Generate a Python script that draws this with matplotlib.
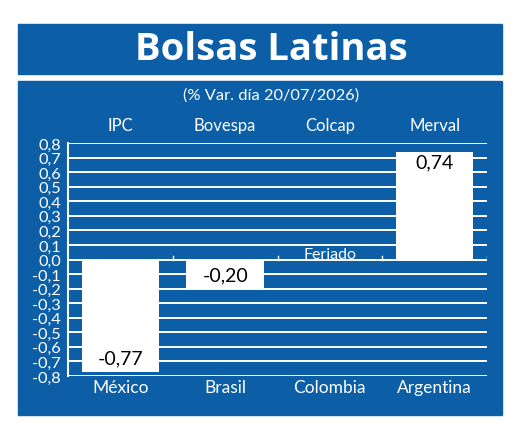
import matplotlib.pyplot as plt
import numpy as np
from matplotlib.patches import Rectangle

# datos
paises = ['México', 'Brasil', 'Colombia', 'Argentina']
indices = ['IPC', 'Bovespa', 'Colcap', 'Merval']
variacion = [-0.77, -0.20, np.nan, 0.74]   # Colcap: feriado
etiquetas = ['-0,77', '-0,20', 'Feriado', '0,74']
titulo = 'Bolsas Latinas'
subtitulo = '(% Var. día 20/07/2026)'

azul = '#0c5fa7'
W, H = 520, 435

fig = plt.figure(figsize=(W / 100, H / 100), dpi=100, facecolor='white')

# cajas azules de fondo
fig.patches.append(Rectangle((18 / W, 1 - 75 / H), 484 / W, 50 / H,
                             transform=fig.transFigure, color=azul, zorder=-5))
fig.patches.append(Rectangle((18 / W, 1 - 416 / H), 484 / W, 334 / H,
                             transform=fig.transFigure, color=azul, zorder=-5))

fig.text(271 / W, 1 - 50 / H, titulo, ha='center', va='center', color='white',
         fontsize=27.5, fontweight='bold', family='Open Sans')
fig.text(271 / W, 1 - 96 / H, subtitulo, ha='center', va='center', color='white',
         fontsize=11.8, family='Lato')

ax = fig.add_axes([68 / W, 1 - 377 / H, 419 / W, 233 / H])
ax.set_facecolor('none')

x = np.arange(len(paises))
yt = np.round(np.arange(-8, 9) / 10, 1)

# lineas horizontales
for v in yt:
    ax.axhline(v, color='white', lw=1.4, zorder=1)

# marcas entre categorias sobre la linea cero
for b in x + 0.5:
    ax.plot([b, b], [0, 0.025], color='white', lw=1, zorder=1)

ax.bar(x, np.nan_to_num(variacion), width=0.74, color='white', zorder=2)

for xi, v, t in zip(x, variacion, etiquetas):
    if np.isnan(v):
        ax.text(xi, -0.012, t, ha='center', va='bottom', color='white',
                fontsize=11.5, family='Lato', zorder=0.5)
    elif v < 0:
        ax.annotate(t, (xi, v), xytext=(0, 4), textcoords='offset points',
                    ha='center', va='bottom', fontsize=14, family='Lato', zorder=3)
    else:
        ax.annotate(t, (xi, v), xytext=(0, -1), textcoords='offset points',
                    ha='center', va='top', fontsize=14, family='Lato', zorder=3)

ax.set_xlim(-0.5, len(paises) - 0.5)
ax.set_ylim(-0.8, 0.8)
ax.set_yticks(yt)
ax.set_yticklabels([f'{v:.1f}'.replace('.', ',') for v in yt])
ax.set_xticks(x)
ax.set_xticklabels(paises)
ax.tick_params(axis='both', length=0, colors='white', labelsize=12.5)
ax.tick_params(axis='y', pad=5, labelsize=11.8)
ax.tick_params(axis='x', pad=2.5)
for lab in ax.get_xticklabels() + ax.get_yticklabels():
    lab.set_family('Lato')

for s in ['top', 'right', 'bottom']:
    ax.spines[s].set_visible(False)
ax.spines['left'].set_color('white')
ax.spines['left'].set_linewidth(1.5)

top = ax.secondary_xaxis('top')
top.set_xticks(x)
top.set_xticklabels(indices)
top.tick_params(length=0, colors='white', labelsize=12, pad=7.5)
for lab in top.get_xticklabels():
    lab.set_family('Lato')
top.spines['top'].set_visible(False)

fig.savefig('out.png', dpi=100, facecolor='white')
